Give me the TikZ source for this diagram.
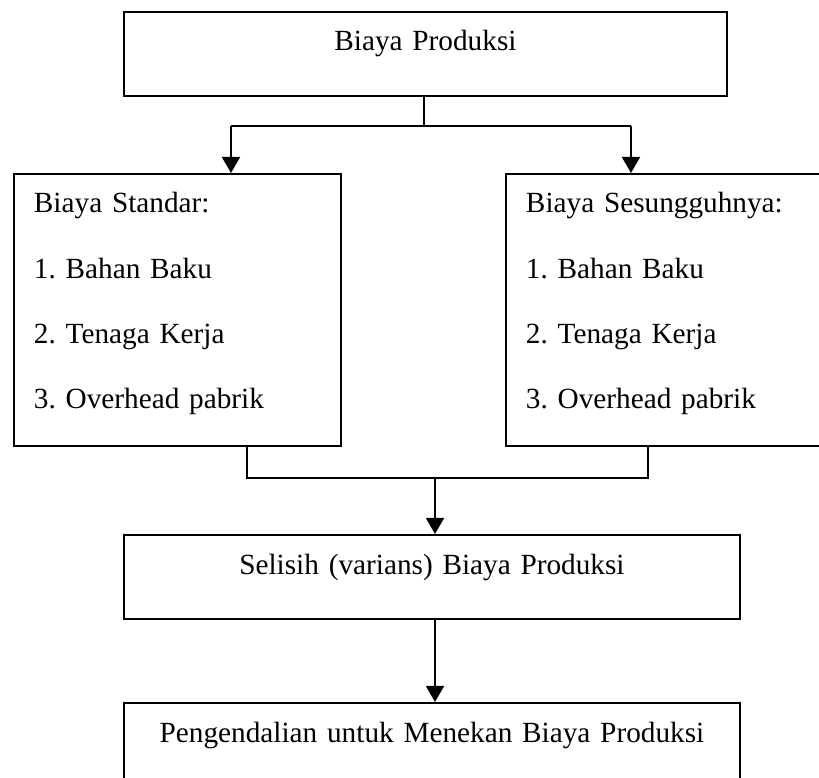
\documentclass[tikz,border=0pt]{standalone}
\usepackage{fontspec}
\setmainfont{Liberation Serif}
\usepackage{tikz}
\usetikzlibrary{arrows.meta}
\frenchspacing

\begin{document}
\begin{tikzpicture}[x=0.41pt,y=-0.41pt,line width=0.8pt,
    box/.style={draw,anchor=north west,inner sep=0pt,align=center,
        text height=16pt,text depth=18.45pt,font=\fontsize{12pt}{14pt}\selectfont},
    listbox/.style={draw,anchor=north west,inner xsep=8.2pt,inner ysep=0pt,
        text width=117.67pt,align=left,text height=16pt,text depth=95.53pt,
        font=\fontsize{12pt}{26.77pt}\selectfont},
    arr/.style={-{Triangle[length=6.6pt,width=7.4pt]}}]
    \clip (0,0) rectangle (819,778);
    \node[box,text width=247.23pt] (prod) at (123,11) {Biaya Produksi};
    \node[listbox] (std) at (13,173) {Biaya Standar:\\1. Bahan Baku\\2. Tenaga Kerja\\3. Overhead pabrik};
    \node[listbox] (act) at (505,173) {Biaya Sesungguhnya:\\1. Bahan Baku\\2. Tenaga Kerja\\3. Overhead pabrik};
    \node[box,text width=252.56pt] (sel) at (123,534) {Selisih (varians) Biaya Produksi};
    \node[box,text width=252.56pt] (ctrl) at (123,702) {Pengendalian untuk Menekan Biaya Produksi};
    \coordinate (jt) at (424,126);
    \coordinate (jl) at (231,126);
    \coordinate (jr) at (631,126);
    \coordinate (ml) at (247,478);
    \coordinate (mr) at (648,478);
    \coordinate (mj) at (435,478);
    \draw (prod.south -| jt)--(jt);
    \draw (jl)--(jr);
    \draw[arr] (jl)--(jl |- std.north);
    \draw[arr] (jr)--(jr |- act.north);
    \draw (std.south -| ml)--(ml)--(mr)--(act.south -| mr);
    \draw[arr] (mj)--(mj |- sel.north);
    \draw[arr] (sel.south -| mj)--(ctrl.north -| mj);
\end{tikzpicture}
\end{document}
